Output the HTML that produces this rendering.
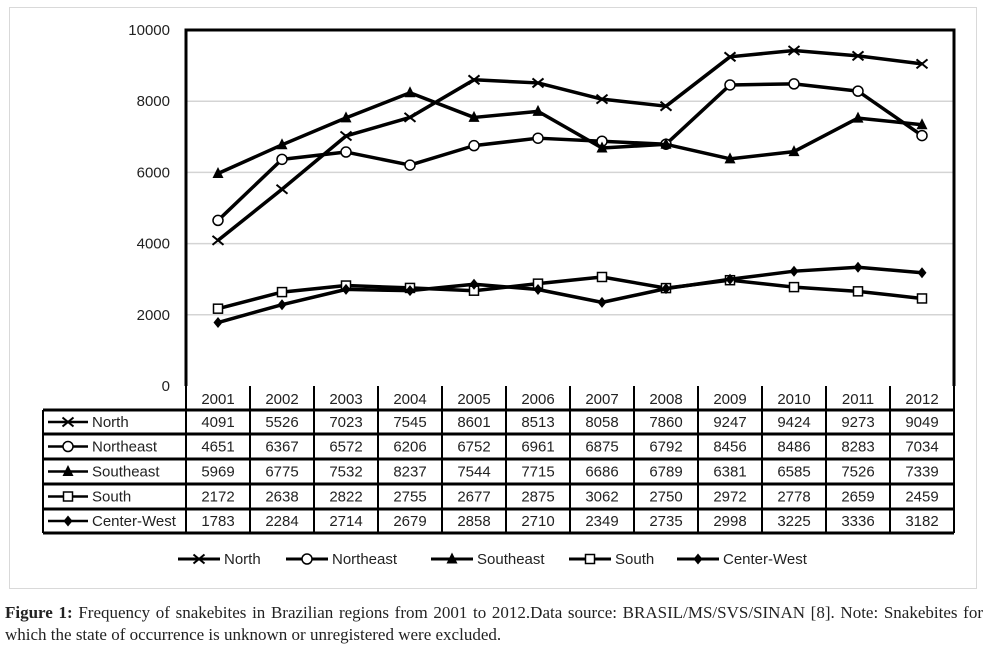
<!DOCTYPE html>
<html><head><meta charset="utf-8"><style>
body{margin:0;background:#fff;width:986px;height:664px;overflow:hidden;position:relative}
#frame{position:absolute;left:9px;top:7px;width:966px;height:580px;border:1px solid #d9d9d9}
#cap{position:absolute;left:5px;top:602px;width:978px;font:17px "Liberation Serif",serif;color:#222;text-align:justify;line-height:22px}
</style></head><body>
<div id="frame"></div>
<svg id="chart" width="986" height="600" style="position:absolute;left:0;top:0" font-family="Liberation Sans, sans-serif"></svg>
<div id="cap"><b>Figure 1:</b> Frequency of snakebites in Brazilian regions from 2001 to 2012.Data source: BRASIL/MS/SVS/SINAN [8]. Note: Snakebites for which the state of occurrence is unknown or unregistered were excluded.</div>
<script>
const years=["2001","2002","2003","2004","2005","2006","2007","2008","2009","2010","2011","2012"];
const seriesNames=["North","Northeast","Southeast","South","Center-West"];
const markers=["x","o","tri","sq","dia"];
const north=[4091,5526,7023,7545,8601,8513,8058,7860,9247,9424,9273,9049];
const northeast=[4651,6367,6572,6206,6752,6961,6875,6792,8456,8486,8283,7034];
const southeast=[5969,6775,7532,8237,7544,7715,6686,6789,6381,6585,7526,7339];
const south=[2172,2638,2822,2755,2677,2875,3062,2750,2972,2778,2659,2459];
const centerWest=[1783,2284,2714,2679,2858,2710,2349,2735,2998,3225,3336,3182];
const yTicks=[0,2000,4000,6000,8000,10000];
const allSeries=[north,northeast,southeast,south,centerWest];
const svg=document.getElementById('chart');const NS="http://www.w3.org/2000/svg";
const L=186,R=954,T=30,B=386,colW=(R-L)/years.length;
const x=i=>L+colW*(i+0.5);const y=v=>B-(v/10000)*(B-T);
function el(t,a,p){const e=document.createElementNS(NS,t);for(const k in a)e.setAttribute(k,a[k]);(p||svg).appendChild(e);return e;}
function txt(s,a){const e=el('text',a);e.textContent=s;return e;}
yTicks.forEach(v=>{if(v>0&&v<10000){const g=el('line',{x1:L,x2:R,y1:y(v),y2:y(v),stroke:'#d4d4d4','stroke-width':1.5});}
const t=txt(v,{x:170,y:y(v)+5,'text-anchor':'end','font-size':15,fill:'#222'});});
const box=el('path',{d:`M${L} ${B}V${T}H${R}V${B}`,fill:'none',stroke:'#000','stroke-width':3});

function marker(t,cx,cy,g){
 if(t=='x'){el('path',{d:`M${cx-5.5} ${cy-4.5}L${cx+5.5} ${cy+4.5}M${cx-5.5} ${cy+4.5}L${cx+5.5} ${cy-4.5}`,stroke:'#000','stroke-width':2},g);}
 else if(t=='o'){el('circle',{cx,cy,r:5,fill:'#fff',stroke:'#000','stroke-width':1.5},g);}
 else if(t=='tri'){el('path',{d:`M${cx} ${cy-6.5}L${cx+5.5} ${cy+4.5}L${cx-5.5} ${cy+4.5}Z`,fill:'#000'},g);}
 else if(t=='sq'){el('rect',{x:cx-4.5,y:cy-4.5,width:9,height:9,fill:'#fff',stroke:'#000','stroke-width':1.5},g);}
 else {el('path',{d:`M${cx} ${cy-5.5}L${cx+4.5} ${cy}L${cx} ${cy+5.5}L${cx-4.5} ${cy}Z`,fill:'#000'},g);}
}
allSeries.forEach((s,k)=>{const g=el('g',{});
 el('polyline',{points:s.map((v,i)=>x(i)+','+y(v)).join(' '),fill:'none',stroke:'#000','stroke-width':3.5,'stroke-linejoin':'round'},g);
 s.forEach((v,i)=>marker(markers[k],x(i),y(v),g));});
const rowT=[410,434,459,484,509,533];
const tg=el('g',{});
years.forEach((yr,i)=>{txt(yr,{x:x(i),y:404,'text-anchor':'middle','font-size':15,fill:'#222'},tg);});
for(let i=0;i<=years.length;i++)el('line',{x1:L+colW*i,x2:L+colW*i,y1:B,y2:533,stroke:'#000','stroke-width':2},tg);
rowT.forEach(r=>el('line',{x1:43,x2:R,y1:r,y2:r,stroke:'#000','stroke-width':3},tg));
el('line',{x1:43,x2:43,y1:410,y2:533,stroke:'#000','stroke-width':2},tg);
allSeries.forEach((s,k)=>{const cy=(rowT[k]+rowT[k+1])/2;
 el('line',{x1:48,x2:88,y1:cy,y2:cy,stroke:'#000','stroke-width':2.5},tg);marker(markers[k],68,cy,tg);
 txt(seriesNames[k],{x:92,y:cy+5,'font-size':15,fill:'#222'},tg);
 s.forEach((v,i)=>txt(v,{x:x(i),y:cy+5,'text-anchor':'middle','font-size':15,fill:'#222'},tg));});
const lx=[178,286,431,569,677];
seriesNames.forEach((n,k)=>{const g=el('g',{});
 el('line',{x1:lx[k],x2:lx[k]+42,y1:559,y2:559,stroke:'#000','stroke-width':3},g);marker(markers[k],lx[k]+21,559,g);
 txt(n,{x:lx[k]+46,y:564,'font-size':15,fill:'#222'},g);});
</script>
</body></html>
